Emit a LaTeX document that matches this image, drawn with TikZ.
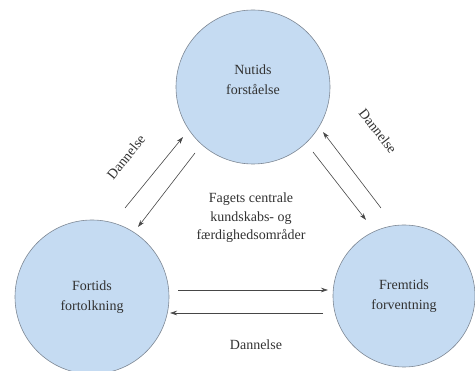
\documentclass[tikz,border=0pt]{standalone}
\usepackage{fontspec}
\setmainfont{Liberation Serif}
\usetikzlibrary{arrows.meta}
\definecolor{circfill}{RGB}{197,219,242}
\definecolor{circborder}{RGB}{125,135,148}
\definecolor{linegray}{RGB}{70,70,70}
\definecolor{textgray}{RGB}{50,50,50}
\begin{document}
\begin{tikzpicture}[x=1pt,y=-1pt,
  bubble/.style={circle, draw=circborder, fill=circfill, line width=0.6pt, inner sep=0pt, align=center, font=\fontsize{14}{20}\selectfont, text=textgray},
  link/.style={draw=linegray, line width=0.6pt, -{Stealth[length=7pt,width=4.5pt]}},
  lbl/.style={font=\fontsize{14}{18.5}\selectfont, text=textgray, align=center}]
\useasboundingbox (0,0) rectangle (475,371);
\node[bubble, minimum size=154pt] (nu) at (253,87) {Nutids\\forståelse\\[-6pt]};
\node[bubble, minimum size=154pt] (fo) at (92,297) {Fortids\\fortolkning};
\node[bubble, minimum size=142pt] (fr) at (404,296) {Fremtids\\forventning};
\node[lbl] (center) at (251,218) {Fagets centrale\\kundskabs- og\\færdighedsområder};
% endpoints
\coordinate (a1) at (125,208); \coordinate (a2) at (183,137);
\coordinate (b1) at (195,153); \coordinate (b2) at (138,227);
\coordinate (c1) at (313,152); \coordinate (c2) at (366,220);
\coordinate (d1) at (381,208); \coordinate (d2) at (323,132);
\coordinate (e1) at (178,290); \coordinate (e2) at (328,290);
\coordinate (f1) at (323,313); \coordinate (f2) at (170,313);
\draw[link] (a1) -- (a2);
\draw[link] (b1) -- (b2);
\draw[link] (c1) -- (c2);
\draw[link] (d1) -- (d2);
\draw[link] (e1) -- (e2);
\draw[link] (f1) -- (f2);
\node[lbl, rotate=51] (l1) at (126,157) {Dannelse};
\node[lbl, rotate=-52] (l2) at (378,131) {Dannelse};
\node[lbl] (l3) at (256,345) {Dannelse};
\end{tikzpicture}
\end{document}
